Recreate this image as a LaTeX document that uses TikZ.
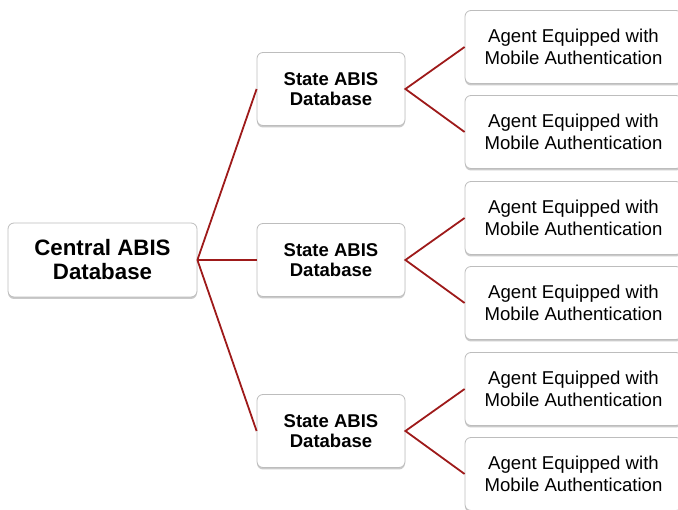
\documentclass[tikz,border=0pt]{standalone}
\usepackage{fontspec}
\setmainfont{Liberation Sans}
\usetikzlibrary{shadows}
\definecolor{linkred}{HTML}{9E1A1A}
\definecolor{boxline}{HTML}{BDBDBD}
\tikzset{
  box/.style={draw=boxline, line width=0.8pt, fill=white, rounded corners=6pt,
    align=center, inner sep=0pt, anchor=center,
    drop shadow={shadow xshift=0pt, shadow yshift=-2pt, opacity=0.35, fill=black!60}},
  centralbox/.style={box, minimum width=189pt, minimum height=74pt, font=\bfseries\fontsize{22.3}{24}\selectfont},
  statebox/.style={box, minimum width=148pt, minimum height=73pt, font=\bfseries\fontsize{18.5}{20}\selectfont},
  agentbox/.style={box, minimum width=217pt, minimum height=73pt, font=\fontsize{18.6}{21.5}\selectfont},
  link/.style={draw=linkred, line width=1.8pt}
}
\begin{document}
\begin{tikzpicture}[x=1pt,y=-1pt]
\useasboundingbox (0,0) rectangle (678,510);
\node[centralbox] (c) at (102.5,260) {Central ABIS\\Database};
\node[statebox] (s1) at (331,89) {State ABIS\\Database};
\node[statebox] (s2) at (331,260) {State ABIS\\Database};
\node[statebox] (s3) at (331,431) {State ABIS\\Database};
\node[agentbox] (a1) at (573.5,47) {Agent Equipped with\\Mobile Authentication};
\node[agentbox] (a2) at (573.5,132) {Agent Equipped with\\Mobile Authentication};
\node[agentbox] (a3) at (573.5,218) {Agent Equipped with\\Mobile Authentication};
\node[agentbox] (a4) at (573.5,303) {Agent Equipped with\\Mobile Authentication};
\node[agentbox] (a5) at (573.5,389) {Agent Equipped with\\Mobile Authentication};
\node[agentbox] (a6) at (573.5,474) {Agent Equipped with\\Mobile Authentication};
\foreach \s in {s1,s2,s3}{\draw[link] (c.east) -- (\s.west);}
\draw[link] (a1.west) -- (s1.east) -- (a2.west);
\draw[link] (a3.west) -- (s2.east) -- (a4.west);
\draw[link] (a5.west) -- (s3.east) -- (a6.west);
\end{tikzpicture}
\end{document}
